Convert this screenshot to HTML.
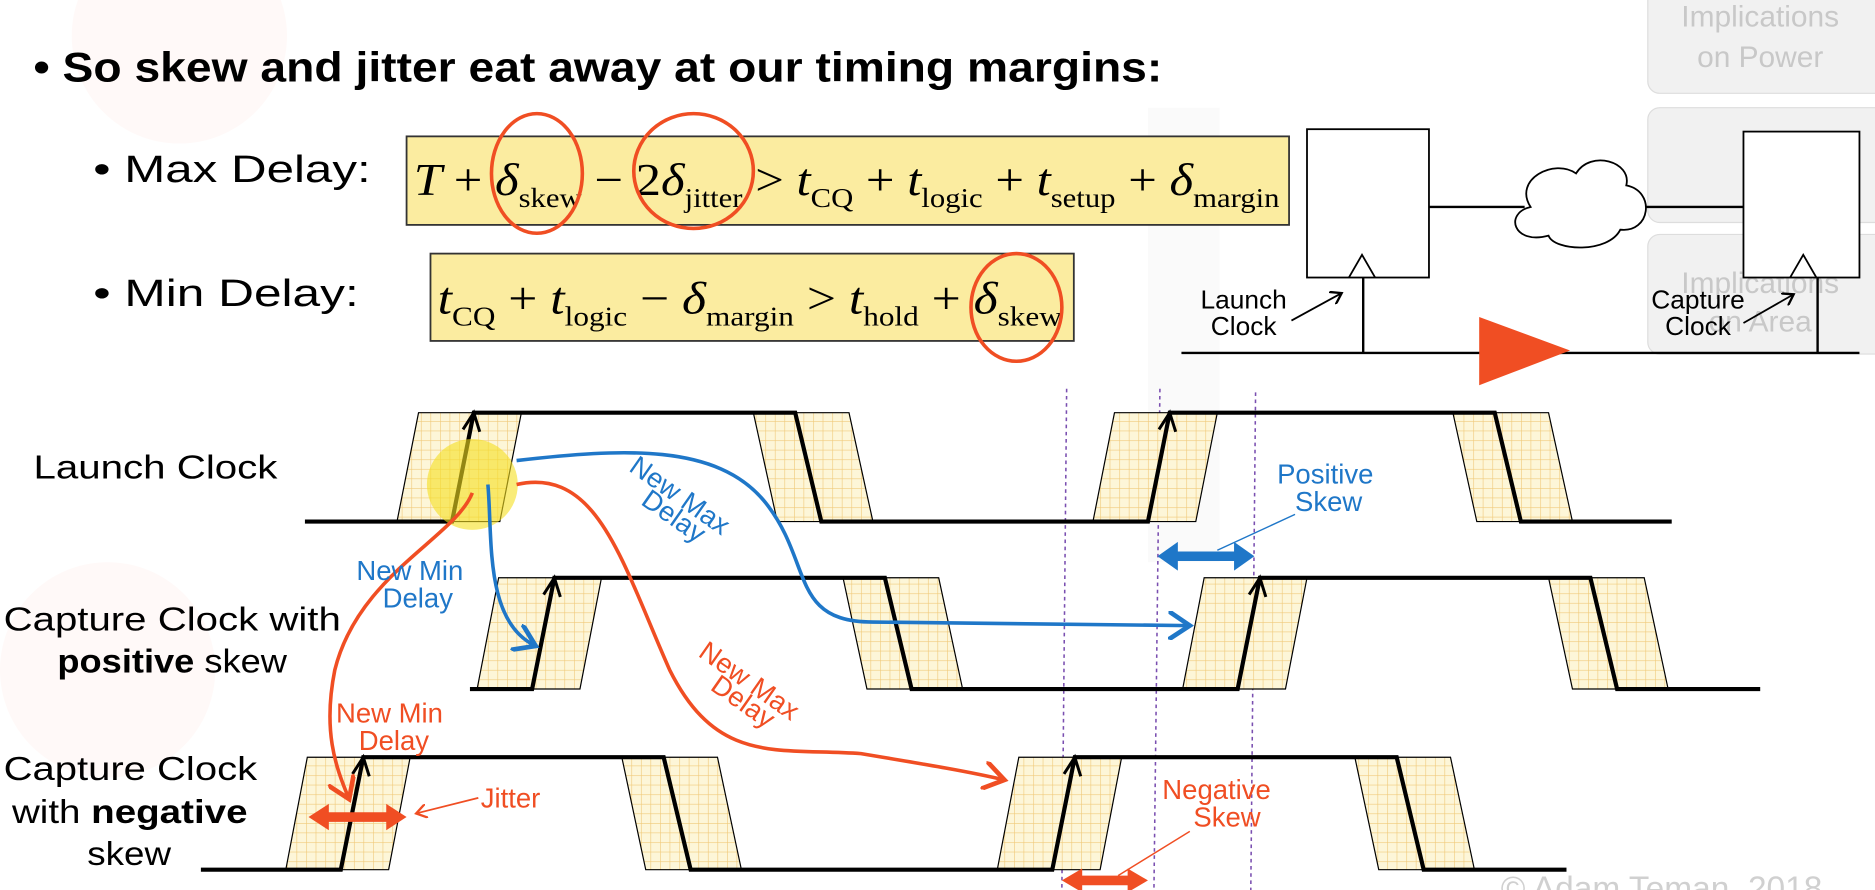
<!DOCTYPE html>
<html><head><meta charset="utf-8"><style>
html,body{margin:0;padding:0;background:#fff;overflow:hidden}
svg{display:block}
.t{font-family:"Liberation Sans",sans-serif}
.s{font-family:"Liberation Serif",serif}
</style></head><body>
<svg id="c" width="1875" height="890" viewBox="0 0 1568 744" preserveAspectRatio="none">
<defs>
<pattern id="hatch" width="8" height="8" patternUnits="userSpaceOnUse">
<rect width="8" height="8" fill="#fdf6d8"/>
<path d="M0 0H8M0 0V8" stroke="#f0c978" stroke-width="1"/>
</pattern>
<marker id="ab" markerWidth="8" markerHeight="8" refX="6" refY="4" orient="auto" markerUnits="strokeWidth"><path d="M0,0 L6,4 L0,8" fill="none" stroke="#1f77c8" stroke-width="1.3"/></marker>
<marker id="ar" markerWidth="8" markerHeight="8" refX="6" refY="4" orient="auto" markerUnits="strokeWidth"><path d="M0,0 L6,4 L0,8" fill="none" stroke="#f04e23" stroke-width="1.3"/></marker>
<marker id="ak" markerWidth="8" markerHeight="8" refX="6" refY="4" orient="auto" markerUnits="strokeWidth"><path d="M0,0 L6,4 L0,8" fill="none" stroke="#000" stroke-width="1.3"/></marker>
</defs>
<g opacity="0.03">
<circle cx="90" cy="560" r="90" fill="#f04e23"/>
<circle cx="150" cy="30" r="90" fill="#f04e23"/>
<rect x="960" y="90" width="60" height="380" fill="#555"/>
</g>
<text class="t" x="28" y="68" font-size="35" font-weight="bold" textLength="944" lengthAdjust="spacingAndGlyphs">• So skew and jitter eat away at our timing margins:</text>
<text class="t" x="78" y="152" font-size="32" textLength="232" lengthAdjust="spacingAndGlyphs">• Max Delay:</text>
<text class="t" x="78" y="256" font-size="32" textLength="222" lengthAdjust="spacingAndGlyphs">• Min Delay:</text>
<rect x="340" y="114" width="738" height="74" fill="#fbeca0" stroke="#333" stroke-width="1.5"/>
<text class="s" x="346" y="163" font-size="38" font-style="italic" textLength="724" lengthAdjust="spacingAndGlyphs">T <tspan font-style="normal">+</tspan> δ<tspan font-size="23" font-style="normal" dy="10">skew</tspan><tspan dy="-10" font-style="normal"> − 2</tspan>δ<tspan font-size="23" font-style="normal" dy="10">jitter</tspan><tspan dy="-10" font-style="normal"> &gt; </tspan>t<tspan font-size="23" font-style="normal" dy="10">CQ</tspan><tspan dy="-10" font-style="normal"> + </tspan>t<tspan font-size="23" font-style="normal" dy="10">logic</tspan><tspan dy="-10" font-style="normal"> + </tspan>t<tspan font-size="23" font-style="normal" dy="10">setup</tspan><tspan dy="-10" font-style="normal"> + </tspan>δ<tspan font-size="23" font-style="normal" dy="10">margin</tspan></text>
<rect x="360" y="212" width="538" height="73" fill="#fbeca0" stroke="#333" stroke-width="1.5"/>
<text class="s" x="366" y="262" font-size="38" font-style="italic" textLength="522" lengthAdjust="spacingAndGlyphs">t<tspan font-size="23" font-style="normal" dy="10">CQ</tspan><tspan dy="-10" font-style="normal"> + </tspan>t<tspan font-size="23" font-style="normal" dy="10">logic</tspan><tspan dy="-10" font-style="normal"> − </tspan>δ<tspan font-size="23" font-style="normal" dy="10">margin</tspan><tspan dy="-10" font-style="normal"> &gt; </tspan>t<tspan font-size="23" font-style="normal" dy="10">hold</tspan><tspan dy="-10" font-style="normal"> + </tspan>δ<tspan font-size="23" font-style="normal" dy="10">skew</tspan></text>
<g fill="none" stroke="#f04e23" stroke-width="3">
<ellipse cx="449" cy="145" rx="38" ry="50"/>
<ellipse cx="580" cy="143" rx="50" ry="48"/>
<ellipse cx="850" cy="257" rx="38" ry="45"/>
</g>
<g>
<rect x="1378" y="-12" width="200" height="90" rx="10" fill="#f1f1f1" stroke="#ddd"/>
<text class="t" x="1472" y="22" font-size="25" fill="#c8c8c8" text-anchor="middle">Implications</text>
<text class="t" x="1472" y="56" font-size="25" fill="#c8c8c8" text-anchor="middle">on Power</text>
<rect x="1378" y="90" width="200" height="96" rx="10" fill="#f1f1f1" stroke="#ddd"/>
<rect x="1378" y="196" width="200" height="100" rx="10" fill="#f1f1f1" stroke="#ddd"/>
<text class="t" x="1472" y="245" font-size="25" fill="#c8c8c8" text-anchor="middle">Implications</text>
<text class="t" x="1472" y="277" font-size="25" fill="#c8c8c8" text-anchor="middle">on Area</text>
</g>
<g stroke="#000" stroke-width="1.5" fill="none">
<rect x="1093" y="108" width="102" height="124" fill="#fff"/>
<path d="M1128 232 L1139 213 L1150 232"/>
<rect x="1458" y="110" width="97" height="122" fill="#fff"/>
<path d="M1497 232 L1508 213 L1519 232"/>
<path d="M1195 173 H1275 M1365 173 H1458" stroke-width="2"/>
<path d="M1280 173 C1265 150 1300 132 1318 145 C1330 125 1365 135 1360 155 C1385 160 1380 195 1355 192 C1345 212 1300 210 1295 197 C1265 205 1258 178 1280 173 Z" fill="#fff"/>
<path d="M988 295 H1555 M1140 232 V295 M1520 232 V295" stroke-width="2"/>
<path d="M1237 265 L1313 293 L1237 322 Z" fill="#f04e23" stroke="none"/>
<path d="M1080 268 L1122 245" marker-end="url(#ak)"/>
<path d="M1458 270 L1500 246" marker-end="url(#ak)"/>
</g>
<text class="t" x="1040" y="258" font-size="22" text-anchor="middle">Launch</text>
<text class="t" x="1040" y="280" font-size="22" text-anchor="middle">Clock</text>
<text class="t" x="1420" y="258" font-size="22" text-anchor="middle">Capture</text>
<text class="t" x="1420" y="280" font-size="22" text-anchor="middle">Clock</text>
<g stroke="#7a4fb0" stroke-width="1.3" stroke-dasharray="3 3">
<line x1="892" y1="325" x2="888" y2="744"/><line x1="970" y1="325" x2="965" y2="744"/><line x1="1050" y1="328" x2="1046" y2="744"/>
</g>
<g id="waves"></g>
<g class="t" font-size="28">
<text x="28" y="400" textLength="204" lengthAdjust="spacingAndGlyphs">Launch Clock</text>
<text x="3" y="527" textLength="282" lengthAdjust="spacingAndGlyphs">Capture Clock with</text>
<text x="48" y="562" textLength="192" lengthAdjust="spacingAndGlyphs"><tspan font-weight="bold">positive</tspan> skew</text>
<text x="3" y="652" textLength="212" lengthAdjust="spacingAndGlyphs">Capture Clock</text>
<text x="10" y="688" textLength="197" lengthAdjust="spacingAndGlyphs">with <tspan font-weight="bold">negative</tspan></text>
<text x="73" y="723" textLength="70" lengthAdjust="spacingAndGlyphs">skew</text>
</g>
<circle cx="395" cy="405" r="38" fill="#f5e020" opacity="0.6"/>
<g fill="none" stroke-width="3">
<path d="M432 385 C520 375 600 370 640 420 C680 470 660 520 730 520 L995 523" stroke="#1f77c8" marker-end="url(#ab)"/>
<path d="M408 405 C412 450 405 520 448 540" stroke="#1f77c8" marker-end="url(#ab)"/>
<path d="M432 405 C500 390 520 470 560 560 C600 640 650 625 720 630 C780 640 810 645 840 652" stroke="#f04e23" marker-end="url(#ar)"/>
<path d="M395 412 C380 450 300 480 280 560 C270 610 280 640 292 668" stroke="#f04e23" marker-end="url(#ar)"/>
</g>
<g class="t" font-size="23">
<text x="525" y="393" fill="#1f77c8" transform="rotate(35 525 393)">New Max</text>
<text x="535" y="421" fill="#1f77c8" transform="rotate(35 535 421)">Delay</text>
<text x="298" y="485" fill="#1f77c8">New Min</text>
<text x="320" y="508" fill="#1f77c8">Delay</text>
<text x="1068" y="404" fill="#1f77c8">Positive</text>
<text x="1083" y="427" fill="#1f77c8">Skew</text>
<text x="583" y="548" fill="#f04e23" transform="rotate(35 583 548)">New Max</text>
<text x="593" y="576" fill="#f04e23" transform="rotate(35 593 576)">Delay</text>
<text x="281" y="604" fill="#f04e23">New Min</text>
<text x="300" y="627" fill="#f04e23">Delay</text>
<text x="402" y="675" fill="#f04e23">Jitter</text>
<text x="972" y="668" fill="#f04e23">Negative</text>
<text x="998" y="691" fill="#f04e23">Skew</text>
</g>
<g>
<path d="M968 465 L985 453 V461 H1032 V453 L1049 465 L1032 477 V469 H985 V477 Z" fill="#1f77c8"/>
<path d="M1083 430 L1018 460" stroke="#1f77c8" stroke-width="1.2"/>
<path d="M258 683 L275 672 V679 H323 V672 L340 683 L323 694 V687 H275 V694 Z" fill="#f04e23"/>
<path d="M400 667 L348 680" stroke="#f04e23" stroke-width="1.5" marker-end="url(#ar)"/>
<path d="M888 736 L905 726 V732 H943 V726 L960 736 L943 746 V740 H905 V746 Z" fill="#f04e23"/>
<path d="M995 695 L935 732" stroke="#f04e23" stroke-width="1.2"/>
</g>
<text class="t" x="1255" y="752" font-size="28" fill="#d0d0d0">© Adam Teman, 2018</text>
</svg>
<script>
const rowHigh = [345, 483, 633];
const rowLow = [436, 576, 727];
const rowStart = [255, 393, 168];
const rowEnd = [1398, 1472, 1310];
const riseEdges = [[378, 960], [445, 1035], [285, 880]];
const fallEdges = [[665, 1250], [740, 1330], [555, 1168]];
const NS = 'http://www.w3.org/2000/svg';
const g = document.getElementById('waves');
function mk(tag, attrs) { const e = document.createElementNS(NS, tag); for (const k in attrs) e.setAttribute(k, attrs[k]); g.appendChild(e); return e; }
for (let r = 0; r < rowHigh.length; r++) {
  const hi = rowHigh[r], lo = rowLow[r], h = lo - hi;
  const slope = h * 0.2;
  riseEdges[r].forEach(function (x) {
    const p = mk('polygon', { points: (x - 28) + ',' + hi + ' ' + (x + 58) + ',' + hi + ' ' + (x + 40) + ',' + lo + ' ' + (x - 46) + ',' + lo, fill: 'url(#hatch)', stroke: '#000', 'stroke-width': 1 });
    
    
  });
  fallEdges[r].forEach(function (x) {
    const p = mk('polygon', { points: (x - 35) + ',' + hi + ' ' + (x + 45) + ',' + hi + ' ' + (x + 65) + ',' + lo + ' ' + (x - 15) + ',' + lo, fill: 'url(#hatch)', stroke: '#000', 'stroke-width': 1 });
    
    
  });
  let d = 'M' + rowStart[r] + ' ' + lo;
  for (let i = 0; i < riseEdges[r].length; i++) {
    const rx = riseEdges[r][i], fx = fallEdges[r][i];
    d += ' H' + rx + ' L' + (rx + slope) + ' ' + hi + ' H' + fx + ' L' + (fx + slope * 1.2) + ' ' + lo;
  }
  d += ' H' + rowEnd[r];
  const w = mk('path', { d: d, fill: 'none', stroke: '#000', 'stroke-width': 3.5, 'stroke-linejoin': 'miter' });
  
  
  riseEdges[r].forEach(function (x) {
    const a = mk('path', { d: 'M' + (x + slope - 9) + ' ' + (hi + 14) + ' L' + (x + slope) + ' ' + hi + ' L' + (x + slope + 5) + ' ' + (hi + 16), fill: 'none', stroke: '#000', 'stroke-width': 2.5 });
    
    
  });
}
</script>
</body></html>
